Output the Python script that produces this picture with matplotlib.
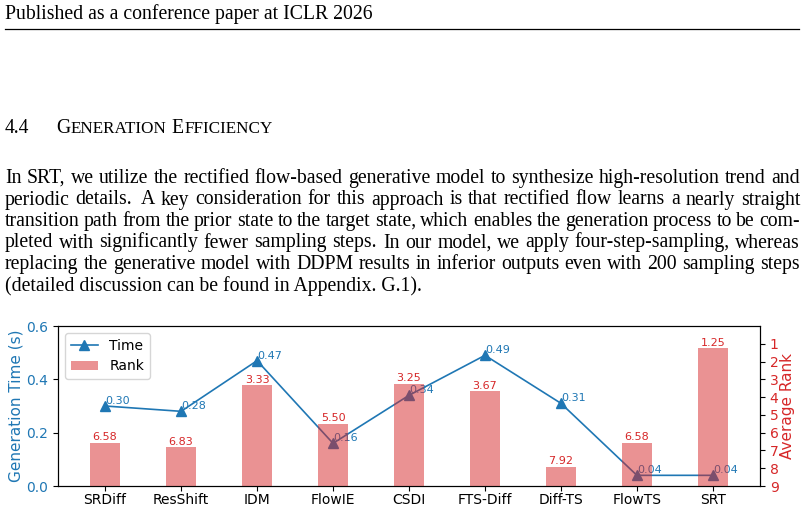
import matplotlib
matplotlib.use('Agg')
import matplotlib.pyplot as plt
import numpy as np

# 数据
methods = ['SRDiff', 'ResShift', 'IDM', 'FlowIE', 'CSDI', 'FTS-Diff', 'Diff-TS', 'FlowTS', 'SRT']
gen_time = [0.30, 0.28, 0.47, 0.16, 0.34, 0.49, 0.31, 0.04, 0.04]
avg_rank = [6.58, 6.83, 3.33, 5.50, 3.25, 3.67, 7.92, 6.58, 1.25]
rank_ticks = [1, 2, 3, 4, 5, 6, 7, 8, 9]
time_ticks = [0.0, 0.2, 0.4, 0.6]

header = 'Published as a conference paper at ICLR 2026'
para_lines = [
    'In SRT, we utilize the rectified flow-based generative model to synthesize high-resolution trend and',
    'periodic details. A key consideration for this approach is that rectified flow learns a nearly straight',
    'transition path from the prior state to the target state, which enables the generation process to be com-',
    'pleted with significantly fewer sampling steps. In our model, we apply four-step-sampling, whereas',
    'replacing the generative model with DDPM results in inferior outputs even with 200 sampling steps',
]
para_last = '(detailed discussion can be found in Appendix. G.1).'

blue = '#1f77b4'
red = '#d62728'
serif = 'Liberation Serif'

W, H = 804, 508
fig = plt.figure(figsize=(W / 100, H / 100), dpi=100)

# 页面层：像素坐标
page = fig.add_axes([0, 0, 1, 1], zorder=0)
page.set_xlim(0, W)
page.set_ylim(H, 0)
page.axis('off')
renderer = fig.canvas.get_renderer()

body = 14.2
X0, X1 = 5, 800

page.text(X0, 19.5, header, fontsize=body, family=serif, va='baseline', ha='left')
page.plot([X0, 799], [29, 29], color='black', lw=0.9)


def runs(x, y, pieces):
    # 依次排放小型大写字母片段
    for txt, size, gap in pieces:
        t = page.text(x, y, txt, fontsize=size, family=serif, va='baseline', ha='left')
        x += t.get_window_extent(renderer).width + gap
    return x


small = body * 0.87
runs(X0, 133, [('4.4', body, 0)])
runs(56, 133, [('G', body, 0.5), ('ENERATION', small, 5), ('E', body, 0.5), ('FFICIENCY', small, 0)])


def justify(line, y):
    words = line.split(' ')
    texts = [page.text(0, y, w, fontsize=body, family=serif, va='baseline', ha='left') for w in words]
    widths = [t.get_window_extent(renderer).width for t in texts]
    weights = [1.4 if w.endswith('.') else 1.0 for w in words[:-1]]
    unit = (X1 - X0 - sum(widths)) / sum(weights)
    x = X0
    for i, t in enumerate(texts):
        t.set_x(x)
        if i < len(weights):
            x += widths[i] + weights[i] * unit


base0, lead = 183, 21.5
for i, line in enumerate(para_lines):
    justify(line, base0 + i * lead)
page.text(X0, base0 + len(para_lines) * lead, para_last, fontsize=body, family=serif,
          va='baseline', ha='left')

# 图表
ax1 = fig.add_axes([58 / W, 1 - 486 / H, (760 - 58) / W, (486 - 326) / H], zorder=2)
x = np.arange(len(methods))
ax1.plot(x, gen_time, color=blue, marker='^', markersize=7, lw=1.2, label='Time')
for xi, t in zip(x, gen_time):
    ax1.text(xi, t, f'{t:.2f}', color=blue, fontsize=8, ha='left', va='bottom')
ax1.set_ylim(0, 0.6)
ax1.set_yticks(time_ticks)
ax1.set_xticks(x)
ax1.set_xticklabels(methods, fontsize=10)
ax1.tick_params(axis='x', pad=1.2)
ax1.set_ylabel('Generation Time (s)', color=blue, fontsize=11, labelpad=2)
ax1.tick_params(axis='y', labelcolor=blue, labelsize=10)

ax2 = ax1.twinx()
ax2.bar(x, np.array(avg_rank) - 9, bottom=9, width=0.4, color=red, alpha=0.5, label='Rank')
for xi, r in zip(x, avg_rank):
    ax2.annotate(f'{r:.2f}', (xi, r), xytext=(0, 0.5), textcoords='offset points',
                 color=red, fontsize=8, ha='center', va='bottom')
ax2.set_ylim(9, 0)
ax2.set_yticks(rank_ticks)
ax2.set_ylabel('Average Rank', color=red, fontsize=11, labelpad=1)
ax2.tick_params(axis='y', labelcolor=red, labelsize=10)

h1, l1 = ax1.get_legend_handles_labels()
h2, l2 = ax2.get_legend_handles_labels()
ax2.legend(h1 + h2, l1 + l2, loc='upper left', fontsize=10)

fig.savefig('out.png', dpi=100, facecolor='white')
